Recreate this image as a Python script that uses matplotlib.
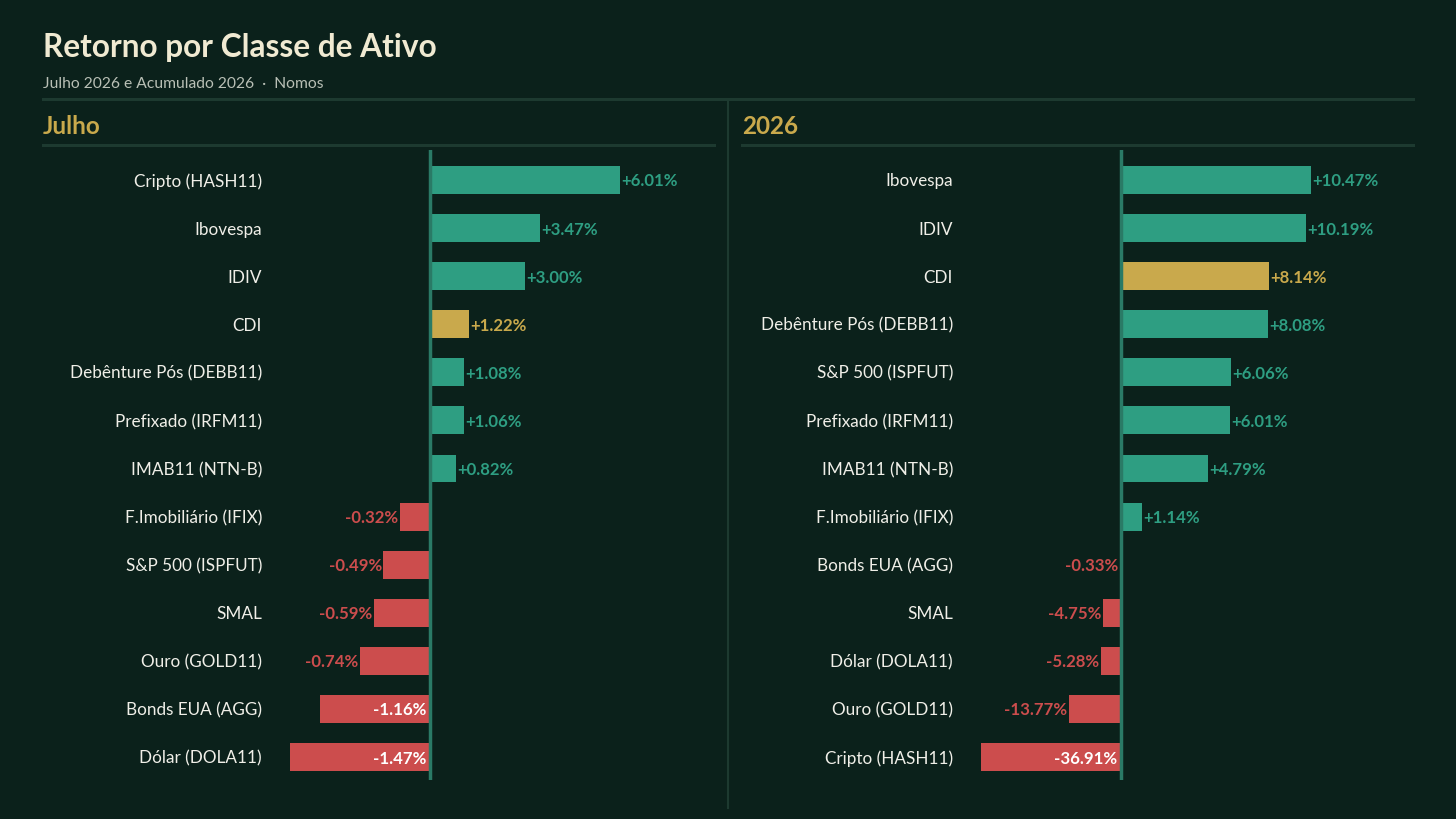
import numpy as np
import matplotlib
matplotlib.use("Agg")
import matplotlib.pyplot as plt

plt.rcParams['font.family'] = ['Lato', 'DejaVu Sans']

# dados
julho_labels = ['Cripto (HASH11)', 'Ibovespa', 'IDIV', 'CDI', 'Debênture Pós (DEBB11)',
                'Prefixado (IRFM11)', 'IMAB11 (NTN-B)', 'F.Imobiliário (IFIX)',
                'S&P 500 (ISPFUT)', 'SMAL', 'Ouro (GOLD11)', 'Bonds EUA (AGG)', 'Dólar (DOLA11)']
julho_values = [6.01, 3.47, 3.00, 1.22, 1.08, 1.06, 0.82, -0.32, -0.49, -0.59, -0.74, -1.16, -1.47]

ano_labels = ['Ibovespa', 'IDIV', 'CDI', 'Debênture Pós (DEBB11)', 'S&P 500 (ISPFUT)',
              'Prefixado (IRFM11)', 'IMAB11 (NTN-B)', 'F.Imobiliário (IFIX)', 'Bonds EUA (AGG)',
              'SMAL', 'Dólar (DOLA11)', 'Ouro (GOLD11)', 'Cripto (HASH11)']
ano_values = [10.47, 10.19, 8.14, 8.08, 6.06, 6.01, 4.79, 1.14, -0.33, -4.75, -5.28, -13.77, -36.91]

BG = '#0b211b'
GREEN = '#2e9e82'
GOLD = '#c9a94c'
RED = '#cc4d4d'
ZERO = '#2a7a66'
SEP = '#1d3a30'
TXT = '#f0efe8'

W, H = 1456, 819
fig = plt.figure(figsize=(W / 100, H / 100), dpi=100, facecolor=BG)


def px(x, y):
    return x / W, 1 - y / H


fig.text(*px(43, 47), 'Retorno por Classe de Ativo', fontsize=22.8, fontweight='bold',
         color='#f0ead2', va='center')
fig.text(*px(43, 84), 'Julho 2026 e Acumulado 2026  ·  Nomos', fontsize=11.25,
         color='#b9c0b6', va='center')


def hline(y, x0, x1):
    fig.add_artist(plt.Line2D([x0 / W, x1 / W], [1 - y / H, 1 - y / H], color=SEP, lw=2.2))


hline(99, 43, 1413)
fig.add_artist(plt.Line2D([728 / W, 728 / W], [1 - 100 / H, 1 - 808 / H], color=SEP, lw=1.5))


def panel(labels, values, title, x0, x1, zero_px):
    fig.text(*px(x0, 127), title, fontsize=17.5, fontweight='bold', color=GOLD, va='center')
    hline(145, x0, x1)

    pmax = max(v for v in values if v > 0)
    nmax = -min(v for v in values if v < 0)
    pos_px, neg_px = 190.0, 140.0

    # escala separada para positivos e negativos
    def fwd(x):
        x = np.asarray(x, dtype=float)
        return np.where(x >= 0, x / pmax * pos_px, x / nmax * neg_px)

    def inv(t):
        t = np.asarray(t, dtype=float)
        return np.where(t >= 0, t / pos_px * pmax, t / neg_px * nmax)

    left = zero_px - 160
    top, bottom = 150, 780
    ax = fig.add_axes([left / W, 1 - bottom / H, (x1 - left) / W, (bottom - top) / H])
    ax.set_facecolor('none')
    ax.set_xscale('function', functions=(fwd, inv))
    ax.set_xlim(float(inv(left - zero_px)), float(inv(x1 - zero_px)))

    n = len(values)
    y = np.arange(n)
    step = (757 - 180) / (n - 1)
    ax.set_ylim(n - 1 + (bottom - 757) / step, -(180 - top) / step)

    colors = []
    for lab, v in zip(labels, values):
        if lab == 'CDI':
            colors.append(GOLD)
        elif v >= 0:
            colors.append(GREEN)
        else:
            colors.append(RED)
    ax.barh(y, values, height=0.58, color=colors, zorder=2)
    ax.axvline(0, color=ZERO, lw=2.5, zorder=3)

    fs = 12.1
    for yi, v, c in zip(y, values, colors):
        s = f'{v:+.2f}%'
        if v >= 0:
            ax.annotate(s, (v, yi), xytext=(1.5, -1.5), textcoords='offset pixels',
                        ha='left', va='center', fontsize=fs, fontweight='bold', color=c)
        elif -v / nmax > 0.6:
            ax.annotate(s, (0, yi), xytext=(-4, -1.5), textcoords='offset pixels',
                        ha='right', va='center', fontsize=fs, fontweight='bold', color='white',
                        zorder=4)
        else:
            ax.annotate(s, (v, yi), xytext=(-1.5, -1.5), textcoords='offset pixels',
                        ha='right', va='center', fontsize=fs, fontweight='bold', color=c)

    ax.set_yticks(y)
    ax.set_yticklabels(labels, fontsize=12.3, color=TXT)
    ax.tick_params(axis='y', length=0, pad=5.8)
    ax.set_xticks([])
    for sp in ax.spines.values():
        sp.set_visible(False)
    return ax


panel(julho_labels, julho_values, 'Julho', 43, 714, 430)
panel(ano_labels, ano_values, '2026', 742, 1413, 1121)

fig.savefig('out.png', dpi=100, facecolor=BG)
